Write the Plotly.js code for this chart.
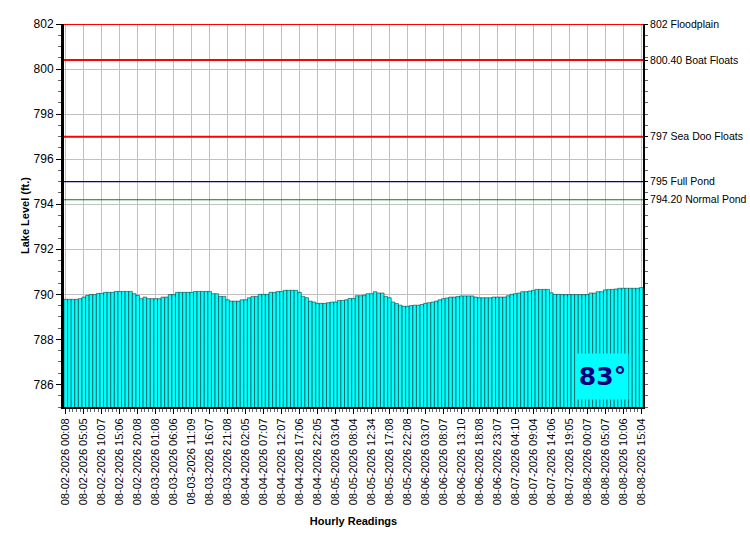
<!DOCTYPE html>
<html>
<head>
<meta charset="utf-8">
<script src="https://cdn.plot.ly/plotly-3.0.1.min.js"></script>
<style>
  body { margin: 0; background: #fff; }
  #chart { width: 750px; height: 550px; }
</style>
</head>
<body>
<div id="chart"></div>
<script>
// hourly lake level readings, 08-02-2026 00:08 .. 08-08-2026 ~16:00
var levels = [
  789.78, 789.78, 789.78, 789.78, 789.81, 789.88, 789.95, 789.99, 789.99, 790.04,
  790.04, 790.09, 790.09, 790.09, 790.13, 790.13, 790.13, 790.13, 790.13, 790.03,
  789.95, 789.81, 789.88, 789.81, 789.81, 789.81, 789.81, 789.88, 789.88, 789.99,
  789.99, 790.09, 790.09, 790.09, 790.09, 790.09, 790.13, 790.13, 790.13, 790.13,
  790.13, 790.03, 790.03, 789.91, 789.91, 789.76, 789.70, 789.70, 789.70, 789.76,
  789.76, 789.85, 789.91, 789.91, 790.00, 790.00, 790.00, 790.09, 790.09, 790.13,
  790.13, 790.18, 790.18, 790.18, 790.18, 790.09, 789.91, 789.85, 789.70, 789.66,
  789.60, 789.60, 789.60, 789.63, 789.66, 789.66, 789.73, 789.73, 789.76, 789.82,
  789.82, 789.94, 789.94, 789.97, 790.03, 790.03, 790.12, 790.06, 790.06, 789.91,
  789.85, 789.66, 789.59, 789.52, 789.47, 789.47, 789.50, 789.52, 789.52, 789.55,
  789.60, 789.63, 789.66, 789.70, 789.76, 789.81, 789.84, 789.88, 789.88, 789.90,
  789.93, 789.93, 789.93, 789.93, 789.88, 789.85, 789.85, 789.85, 789.85, 789.88,
  789.88, 789.88, 789.88, 789.94, 790.00, 790.03, 790.06, 790.12, 790.12, 790.15,
  790.18, 790.22, 790.22, 790.22, 790.22, 790.07, 790.00, 790.00, 789.99, 789.99,
  789.99, 789.99, 789.99, 789.99, 789.99, 789.99, 790.06, 790.06, 790.12, 790.12,
  790.20, 790.22, 790.22, 790.24, 790.27, 790.27, 790.27, 790.27, 790.27, 790.27,
  790.30
];

// one label every 5 readings
var tickLabels = [
  '08-02-2026 00:08', '08-02-2026 05:05', '08-02-2026 10:07', '08-02-2026 15:06',
  '08-02-2026 20:08', '08-03-2026 01:08', '08-03-2026 06:06', '08-03-2026 11:09',
  '08-03-2026 16:07', '08-03-2026 21:08', '08-04-2026 02:05', '08-04-2026 07:07',
  '08-04-2026 12:07', '08-04-2026 17:06', '08-04-2026 22:05', '08-05-2026 03:04',
  '08-05-2026 08:04', '08-05-2026 12:34', '08-05-2026 17:08', '08-05-2026 22:08',
  '08-06-2026 03:07', '08-06-2026 08:07', '08-06-2026 13:10', '08-06-2026 18:08',
  '08-06-2026 23:07', '08-07-2026 04:10', '08-07-2026 09:04', '08-07-2026 14:06',
  '08-07-2026 19:05', '08-08-2026 00:07', '08-08-2026 05:07', '08-08-2026 10:06',
  '08-08-2026 15:04'
];
var tickStep = 5;

// reference levels shown on the right axis
var refLevels = [802, 800.40, 797, 795, 794.20];
var refLabels = ['802 Floodplain', '800.40 Boat Floats', '797 Sea Doo Floats', '795 Full Pond', '794.20 Normal Pond'];
var refColors = ['#ff0000', '#ff0000', '#ff0000', '#000080', '#008000'];
var refWidths = [2, 2, 2, 1.2, 1.2];

var waterTemp = '83°';

var xs = levels.map(function (v, i) { return i; });
var tickVals = tickLabels.map(function (t, i) { return i * tickStep; });
var xMin = -0.5, xMax = levels.length - 0.5;

var data = [{
  type: 'bar',
  x: xs,
  y: levels,
  marker: { color: '#00ffff', line: { color: 'rgba(0,0,0,0.45)', width: 1 } },
  hoverinfo: 'y'
}];

refLevels.forEach(function (lv, i) {
  data.push({
    type: 'scatter',
    mode: 'lines',
    x: [xMin, xMax],
    y: [lv, lv],
    yaxis: 'y2',
    line: { color: refColors[i], width: refWidths[i] },
    hoverinfo: 'skip'
  });
});

var font = 'Arial, "Liberation Sans", sans-serif';

var layout = {
  width: 750,
  height: 550,
  margin: { l: 64, r: 107, t: 24, b: 143 },
  paper_bgcolor: '#ffffff',
  plot_bgcolor: '#ffffff',
  showlegend: false,
  bargap: 0,
  font: { family: font, size: 11, color: '#000' },
  xaxis: {
    range: [xMin, xMax],
    tickmode: 'array',
    tickvals: tickVals,
    ticktext: tickLabels,
    tickangle: -90,
    tickfont: { size: 11 },
    ticks: 'outside',
    ticklen: 5,
    tickcolor: '#000',
    minor: { tickmode: 'linear', tick0: 0, dtick: 1, ticks: 'outside', ticklen: 3, tickcolor: '#666', showgrid: false },
    showgrid: true,
    gridcolor: '#c0c0c0',
    showline: true,
    linecolor: '#000',
    linewidth: 2,
    zeroline: false,
    title: { text: '<b>Hourly Readings</b>', font: { size: 11 }, standoff: 13 }
  },
  yaxis: {
    range: [785, 802],
    tick0: 786,
    dtick: 2,
    tickfont: { size: 12 },
    ticks: 'outside',
    ticklen: 5,
    tickcolor: '#000',
    minor: { dtick: 0.5, ticks: 'outside', ticklen: 3, tickcolor: '#666', showgrid: false },
    showgrid: true,
    gridcolor: '#c0c0c0',
    showline: true,
    linecolor: '#000',
    linewidth: 3,
    zeroline: false,
    title: { text: '<b>Lake Level (ft.)</b>', font: { size: 11 }, standoff: 2 }
  },
  yaxis2: {
    overlaying: 'y',
    side: 'right',
    range: [785, 802],
    tickmode: 'array',
    tickvals: refLevels,
    ticktext: refLabels,
    tickfont: { size: 10.5 },
    ticks: 'outside',
    ticklen: 3,
    tickcolor: '#000',
    minor: { tickmode: 'linear', tick0: 785, dtick: 0.5, ticks: 'outside', ticklen: 3, tickcolor: '#666', showgrid: false },
    showgrid: false,
    showline: true,
    linecolor: '#000',
    linewidth: 2,
    zeroline: false
  },
  annotations: [{
    xref: 'paper', yref: 'paper',
    x: 0.93, y: 0.08,
    xanchor: 'center', yanchor: 'middle',
    text: '<b>' + waterTemp + '</b>',
    showarrow: false,
    font: { family: 'Verdana, "DejaVu Sans", sans-serif', size: 25, color: '#000080' },
    bgcolor: '#00ffff',
    width: 49,
    height: 43
  }]
};

Plotly.newPlot('chart', data, layout, { displayModeBar: false, staticPlot: true });
</script>
</body>
</html>
